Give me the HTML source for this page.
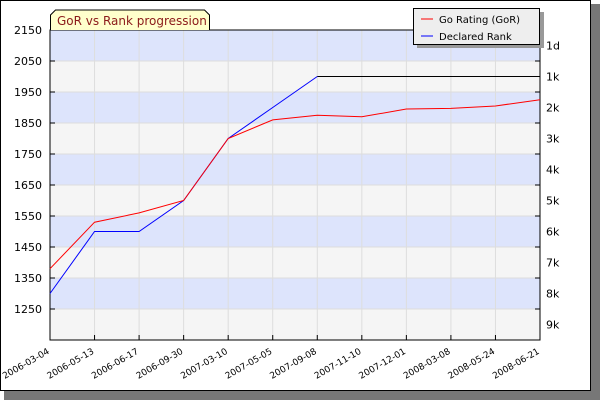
<!DOCTYPE html>
<html><head><meta charset="utf-8"><style>
body{margin:0;background:#fff}
svg{display:block;font-family:"DejaVu Sans","Liberation Sans",sans-serif}
</style></head><body>
<svg id="c" width="600" height="400">
<rect x="4" y="4" width="596" height="396" fill="#777"/>
<rect x="0.5" y="0.5" width="590" height="390" fill="#fff" stroke="#000"/>
<g id="bands"></g><g id="grid"></g><g id="axes"></g><g id="series"></g>
<g>
<path d="M50.5,30 L50.5,15 L55.5,10 L204.5,10 L209.5,15 L209.5,30" fill="#ffffcc" stroke="#000"/>
<text x="57" y="25" font-size="12" fill="#8b1a1a">GoR vs Rank progression</text>
</g>
<g>
<rect x="417" y="12" width="127" height="36" fill="#999"/>
<rect x="413.5" y="8.5" width="126" height="36" fill="#eee" stroke="#000"/>
<line x1="421" y1="19" x2="433" y2="19" stroke="red"/>
<text x="439" y="23" font-size="10">Go Rating (GoR)</text>
<line x1="421" y1="36" x2="433" y2="36" stroke="blue"/>
<text x="439" y="40" font-size="10">Declared Rank</text>
</g>
</svg>
<script>
const dates=["2006-03-04","2006-05-13","2006-06-17","2006-09-30","2007-03-10","2007-05-05","2007-09-08","2007-11-10","2007-12-01","2008-03-08","2008-05-24","2008-06-21"];
const gor=[1380,1530,1560,1600,1800,1860,1875,1870,1895,1897,1905,1925];
const rankGor=[1300,1500,1500,1600,1800,1900,2000,2000,2000,2000,2000,2000];
const yTicks=[2150,2050,1950,1850,1750,1650,1550,1450,1350,1250];
const rankLabels=["1d","1k","2k","3k","4k","5k","6k","7k","8k","9k"];
const rankVals=[2100,2000,1900,1800,1700,1600,1500,1400,1300,1200];
const L=50,R=540,T=30,B=340,YMIN=1150,YMAX=2150;
const ns="http://www.w3.org/2000/svg";
const x=i=>L+(R-L)*i/(dates.length-1);
const y=v=>B-(v-YMIN)/(YMAX-YMIN)*(B-T);
function mk(p,t,a){const e=document.createElementNS(ns,t);for(const k in a)e.setAttribute(k,a[k]);document.getElementById(p).appendChild(e);return e;}
for(let v=YMAX,k=0;v>YMIN;v-=100,k++){
 const r=mk("bands","rect",{x:L,y:y(v),width:R-L,height:y(v-100)-y(v),fill:k%2?"#f5f5f5":"#dde4fc"});
 
 
}
yTicks.forEach(v=>{
 const g=mk("grid","line",{x1:L,x2:R,y1:y(v),y2:y(v),stroke:"#ddd"});
 
 
 const t=mk("axes","text",{x:L-8,y:y(v)+4,"text-anchor":"end","font-size":"11"});t.textContent=v;
 
 
 mk("axes","line",{x1:L,x2:L+5,y1:y(v),y2:y(v),stroke:"#000"});
 mk("axes","line",{x1:R-5,x2:R,y1:y(v),y2:y(v),stroke:"#000"});
});
dates.forEach((d,i)=>{
 if(i>0&&i<dates.length-1){const g=mk("grid","line",{x1:x(i),x2:x(i),y1:T,y2:B,stroke:"#ddd"});
 
 }
 mk("axes","line",{x1:x(i),x2:x(i),y1:B-5,y2:B,stroke:"#000"});
 const t=mk("axes","text",{x:x(i),y:B+13,"text-anchor":"end","font-size":"9",transform:`rotate(-30 ${x(i)} ${B+13})`});t.textContent=d;
 
 
});
rankLabels.forEach((l,i)=>{
 const t=mk("axes","text",{x:R+6,y:y(rankVals[i])+4,"font-size":"11"});t.textContent=l;
 
 
});
const ax=mk("axes","rect",{x:L,y:T,width:R-L,height:B-T,fill:"none",stroke:"#000"});


const last=rankGor.indexOf(Math.max(...rankGor));
const bl=mk("series","polyline",{points:rankGor.slice(last).map((v,i)=>x(i+last)+","+y(v)).join(" "),fill:"none",stroke:"#000"});


const rl=mk("series","polyline",{points:rankGor.slice(0,last+1).map((v,i)=>x(i)+","+y(v)).join(" "),fill:"none",stroke:"blue"});


const gl=mk("series","polyline",{points:gor.map((v,i)=>x(i)+","+y(v)).join(" "),fill:"none",stroke:"red"});


</script>
</body></html>
